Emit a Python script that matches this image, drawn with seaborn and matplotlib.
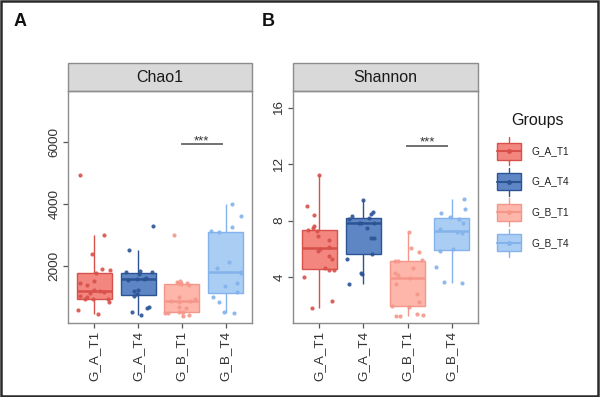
import numpy as np
import pandas as pd
import matplotlib
matplotlib.use("Agg")
import matplotlib.pyplot as plt
import seaborn as sns
from matplotlib.patches import Rectangle

# ---------------- data ----------------
groups = ["G_A_T1", "G_A_T4", "G_B_T1", "G_B_T4"]
fill_colors = ["#F3877F", "#5E86C5", "#FDB6A9", "#AACDF4"]
line_colors = ["#D8504A", "#2C5394", "#F4978A", "#84B2EA"]

chao1_G_A_T1 = [4930, 3000, 2390, 1900, 1880, 1780, 1530, 1480, 1400, 1240,
                1200, 1170, 1130, 1050, 1010, 950, 950, 940, 850, 600, 480]
chao1_G_A_T4 = [3300, 2530, 1850, 1820, 1810, 1760, 1620, 1600, 1590, 1570,
                1240, 1220, 1100, 1060, 680, 660, 520, 440]
chao1_G_B_T1 = [3000, 1520, 1500, 1480, 1470, 1440, 1400, 1000, 950, 900,
                880, 850, 700, 650, 540, 520, 510, 500, 450, 400]
chao1_G_B_T4 = [4000, 3600, 3250, 3140, 3100, 2150, 1950, 1830, 1780, 1480,
                1370, 1180, 1000, 870, 520, 490]

shannon_G_A_T1 = [11.2, 9.0, 8.4, 7.6, 7.45, 7.3, 7.25, 6.9, 6.6, 6.15,
                  6.0, 5.8, 5.5, 5.3, 4.6, 4.5, 4.5, 4.0, 2.3, 1.8]
shannon_G_A_T4 = [9.46, 8.6, 8.45, 8.3, 8.15, 8.1, 7.85, 7.8, 7.8, 7.45,
                  6.75, 6.75, 5.6, 5.25, 4.25, 4.2, 3.5]
shannon_G_B_T1 = [7.15, 6.05, 5.75, 5.2, 5.15, 5.1, 4.6, 4.3, 4.1, 3.95,
                  3.5, 2.8, 2.2, 1.95, 1.85, 1.35, 1.3, 1.2, 1.2]
shannon_G_B_T4 = [9.52, 8.8, 8.55, 8.25, 8.1, 7.8, 7.4, 7.15, 7.1, 5.95,
                  5.85, 4.7, 3.6, 3.55]

metrics = ["Chao1", "Shannon"]
panel_letters = ["A", "B"]
y_limits = {"Chao1": (180, 7630), "Shannon": (0.72, 17.2)}
y_ticks = {"Chao1": [2000, 4000, 6000], "Shannon": [4, 8, 12, 16]}
sig_pair = ("G_B_T1", "G_B_T4")
sig_y = {"Chao1": 5915, "Shannon": 13.3}
sig_label = "***"

series = {
    "Chao1": [chao1_G_A_T1, chao1_G_A_T4, chao1_G_B_T1, chao1_G_B_T4],
    "Shannon": [shannon_G_A_T1, shannon_G_A_T4, shannon_G_B_T1, shannon_G_B_T4],
}
rows = []
for m in metrics:
    for g, vals in zip(groups, series[m]):
        for v in vals:
            rows.append({"metric": m, "group": g, "value": v})
df = pd.DataFrame(rows)

# ---------------- figure ----------------
sns.set_theme(style="white")
plt.rcParams["font.family"] = ["Liberation Sans", "DejaVu Sans"]

W, H = 600, 397
fig = plt.figure(figsize=(W / 100, H / 100), dpi=100)
fig.patch.set_facecolor("white")

panel_px = {"Chao1": (68, 252), "Shannon": (293, 478)}
top_px, bot_px = 91, 323
strip_px = 28
border_col = "#8C8C8C"
np.random.seed(7)

for m, letter in zip(metrics, panel_letters):
    l, r = panel_px[m]
    ax = fig.add_axes([l / W, 1 - bot_px / H, (r - l) / W, (bot_px - top_px) / H])
    sub_m = df[df.metric == m]
    for g, fc, lc in zip(groups, fill_colors, line_colors):
        sub = sub_m[sub_m.group == g]
        sns.boxplot(data=sub, x="group", y="value", order=groups, ax=ax,
                    color=fc, linecolor=lc, linewidth=1.0, width=0.8,
                    saturation=1, showfliers=False, whis=1.5,
                    capprops={"visible": False},
                    medianprops={"linewidth": 1.8})
    for g, lc in zip(groups, line_colors):
        sub = sub_m[sub_m.group == g]
        sns.stripplot(data=sub, x="group", y="value", order=groups, ax=ax,
                      color=lc, size=3.0, jitter=0.38, linewidth=0, alpha=0.9,
                      zorder=4)
    ax.set_xlim(-0.6, len(groups) - 0.4)
    ax.set_ylim(*y_limits[m])
    ax.set_yticks(y_ticks[m])
    ax.set_yticklabels([str(t) for t in y_ticks[m]])
    ax.set_xticks(range(len(groups)))
    ax.set_xticklabels(groups)
    ax.set_xlabel("")
    ax.set_ylabel("")
    for sp in ax.spines.values():
        sp.set_visible(True)
        sp.set_color(border_col)
        sp.set_linewidth(1.0)
    ax.tick_params(axis="both", which="both", length=3.5, width=0.9,
                   color="#555555", labelcolor="#333333", labelsize=9.7,
                   direction="out", bottom=True, left=True, pad=2)
    for lbl in ax.get_yticklabels():
        lbl.set_rotation(90)
        lbl.set_va("center")
    for lbl in ax.get_xticklabels():
        lbl.set_rotation(90)
        lbl.set_ha("center")
        lbl.set_va("top")

    # facet strip
    sh = strip_px / (bot_px - top_px)
    ax.add_patch(Rectangle((0, 1), 1, sh, transform=ax.transAxes,
                           facecolor="#D9D9D9", edgecolor=border_col,
                           linewidth=1.0, clip_on=False))
    ax.text(0.5, 1 + sh / 2, m, transform=ax.transAxes, ha="center",
            va="center", fontsize=11.5, color="#1A1A1A")

    # significance annotation
    i1, i2 = groups.index(sig_pair[0]), groups.index(sig_pair[1])
    ax.plot([i1 - 0.03, i2 - 0.07], [sig_y[m], sig_y[m]], color="#666666",
            linewidth=1.3, solid_capstyle="butt")
    ax.annotate(sig_label, xy=((i1 + i2) / 2 - 0.05, sig_y[m]),
                xytext=(0, -2), textcoords="offset points",
                ha="center", va="bottom", fontsize=9.5, color="#333333")

    # panel letter
    fig.text((l - 54) / W if m == "Chao1" else (l - 31) / W, 1 - 22 / H,
             letter, fontsize=13, fontweight="bold", ha="left", va="center",
             color="#111111")

# ---------------- legend ----------------
lax = fig.add_axes([490 / W, 1 - 265 / H, 110 / W, 165 / H])
lax.set_xlim(0, 110)
lax.set_ylim(165, 0)
lax.axis("off")
lax.text(48, 21, "Groups", ha="center", va="center", fontsize=11.5,
         color="#1A1A1A")
for i, (g, fc, lc) in enumerate(zip(groups, fill_colors, line_colors)):
    cy = 51 + i * 30.6
    lax.plot([19, 19], [cy - 14, cy + 14], color=lc, linewidth=1.0)
    lax.add_patch(Rectangle((7, cy - 8.5), 24, 17, facecolor=fc,
                            edgecolor=lc, linewidth=1.0, zorder=3))
    lax.plot([7, 31], [cy, cy], color=lc, linewidth=1.5, zorder=4)
    lax.plot([19], [cy], marker="o", markersize=2.5, color=lc, zorder=5)
    lax.text(42, cy, g, ha="left", va="center", fontsize=7.3, color="#222222")

# outer frame
fig.patches.append(Rectangle((0.002, 0.003), 0.995, 0.994,
                             transform=fig.transFigure, fill=False,
                             edgecolor="#2A2A2A", linewidth=1.8))

fig.savefig("out.png", dpi=100)
